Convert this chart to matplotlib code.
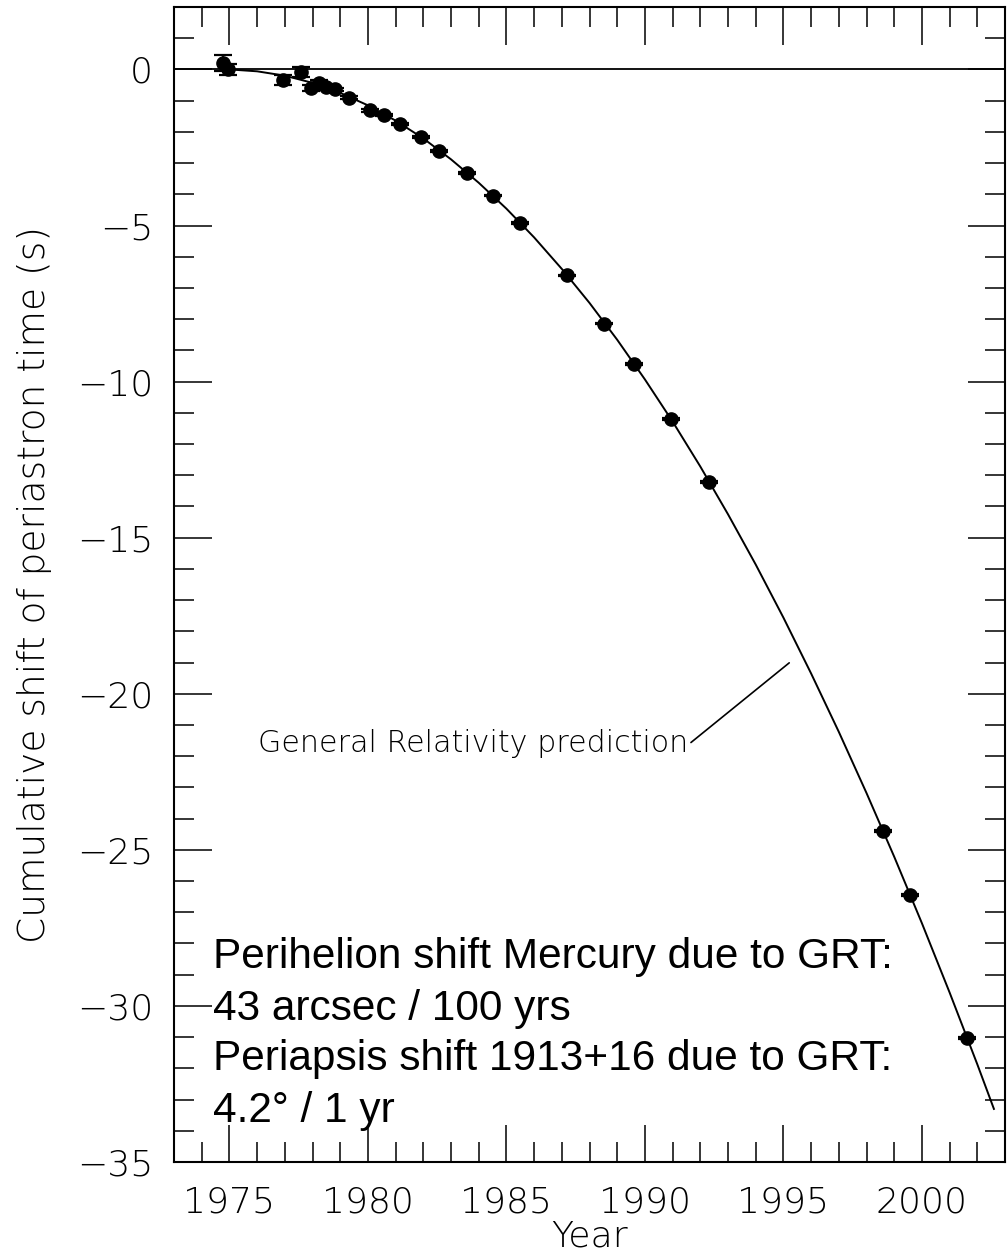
import matplotlib
matplotlib.use("Agg")
import matplotlib.pyplot as plt
from matplotlib.ticker import MultipleLocator

# Measured periastron-time shifts of PSR B1913+16: epoch (yr), shift (s), 1-sigma error (s)
obs_year = [1974.78, 1974.96, 1976.93, 1977.60, 1977.94, 1978.24, 1978.48, 1978.82,
            1979.31, 1980.08, 1980.59, 1981.16, 1981.91, 1982.58, 1983.56, 1984.50,
            1985.50, 1987.17, 1988.53, 1989.61, 1990.93, 1992.32, 1998.61, 1999.57,
            2001.64]
obs_shift = [0.20, 0.00, -0.34, -0.08, -0.60, -0.43, -0.56, -0.64,
             -0.91, -1.31, -1.46, -1.76, -2.17, -2.60, -3.31, -4.04,
             -4.91, -6.60, -8.14, -9.43, -11.20, -13.21, -24.41, -26.46,
             -31.04]
obs_err = [0.26, 0.19, 0.17, 0.15, 0.10, 0.10, 0.10, 0.06,
           0.05, 0.04, 0.04, 0.03, 0.03, 0.03, 0.03, 0.03,
           0.03, 0.03, 0.03, 0.03, 0.03, 0.03, 0.03, 0.03,
           0.03]

# General Relativity prediction for the cumulative shift
gr_year = [1975, 1976, 1977, 1978, 1979, 1980, 1981, 1982, 1983, 1984,
           1985, 1986, 1987, 1988, 1989, 1990, 1991, 1992, 1993, 1994,
           1995, 1996, 1997, 1998, 1999, 2000, 2001, 2002, 2002.6]
gr_shift = [0.00, -0.06, -0.20, -0.43, -0.75, -1.15, -1.64, -2.21, -2.88, -3.63,
            -4.46, -5.38, -6.39, -7.48, -8.66, -9.93, -11.28, -12.72, -14.25, -15.86,
            -17.56, -19.35, -21.22, -23.18, -25.22, -27.35, -29.57, -31.87, -33.30]

x_range = (1973, 2003)
y_range = (-35, 2)
x_ticks = [1975, 1980, 1985, 1990, 1995, 2000]
y_ticks = [0, -5, -10, -15, -20, -25, -30, -35]

info_lines = ["Perihelion shift Mercury due to GRT:",
              "43 arcsec / 100 yrs",
              "Periapsis shift 1913+16 due to GRT:",
              "4.2\u00b0 / 1 yr"]

W, H = 1007, 1254
fig = plt.figure(figsize=(W / 100, H / 100), dpi=100)
ax = fig.add_axes([174 / W, 1 - 1162 / H, (1005 - 174) / W, (1162 - 7) / H])

lab_font = dict(family="DejaVu Sans", weight="light")

ax.axhline(0, color="black", lw=1.3, zorder=1)
ax.plot(gr_year, gr_shift, color="black", lw=1.4, zorder=2)
ax.errorbar(obs_year, obs_shift, yerr=obs_err, fmt="o", color="black",
            ms=9.5, capsize=6.5, capthick=1.6, elinewidth=1.3, zorder=3)

ax.set_xlim(*x_range)
ax.set_ylim(*y_range)
ax.set_xticks(x_ticks)
ax.set_yticks(y_ticks)
ax.set_yticklabels(["0" if v == 0 else "\u2212%d" % -v for v in y_ticks])
ax.xaxis.set_minor_locator(MultipleLocator(1))
ax.yaxis.set_minor_locator(MultipleLocator(1))
ax.tick_params(which="both", direction="in", top=True, right=True, width=1.1,
               color="black")
ax.tick_params(which="major", length=27, labelsize=26)
ax.tick_params(which="minor", length=14.5)
ax.tick_params(axis="y", which="major", pad=15)
ax.tick_params(axis="x", which="major", pad=17)
for lab in ax.get_xticklabels() + ax.get_yticklabels():
    lab.set_fontweight("light")
for sp in ax.spines.values():
    sp.set_linewidth(1.5)

ax.set_xlabel("Year", fontsize=26, labelpad=0, **lab_font)
ax.set_ylabel("Cumulative shift of periastron time (s)", fontsize=27, labelpad=18,
              **lab_font)

ax.annotate("General Relativity prediction", xy=(1995.21, -19.01),
            xytext=(1976.03, -21.86), fontsize=21.7, va="baseline", ha="left",
            arrowprops=dict(arrowstyle="-", color="black", lw=1.2,
                            shrinkA=0, shrinkB=0,
                            relpos=(1.0, 0.45)),
            **lab_font)

baselines = [968, 1020, 1070, 1122]
for txt, b in zip(info_lines, baselines):
    fig.text(213 / W, 1 - b / H, txt, fontsize=30.5, family="Liberation Sans",
             va="baseline", ha="left", color="black")

fig.savefig("out.png", dpi=100)
